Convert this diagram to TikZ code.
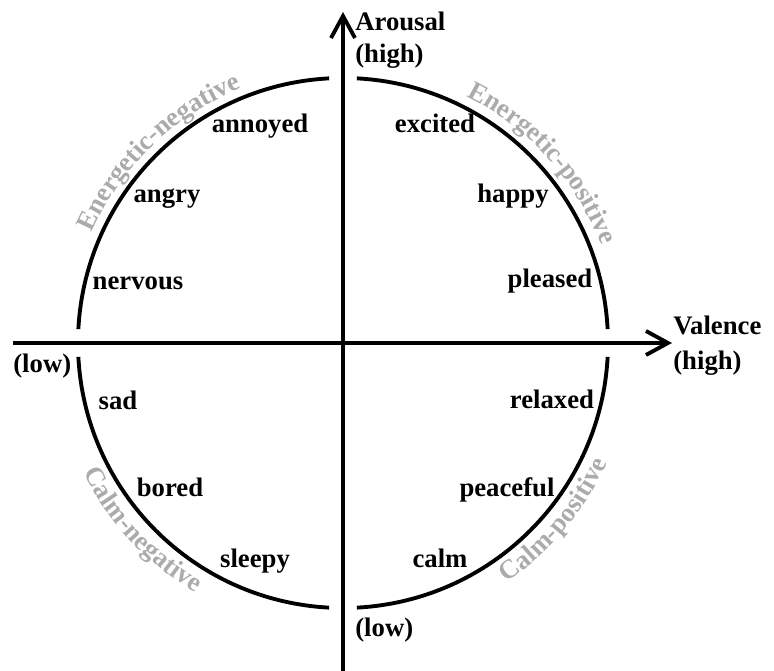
\documentclass[tikz,border=0pt]{standalone}
\usepackage{fontspec}
\setmainfont{Liberation Serif}
\usetikzlibrary{arrows.meta,decorations.text}
\definecolor{zonegray}{HTML}{ABABAB}
\tikzset{
  mood/.style={font=\bfseries\fontsize{15.2}{17}\selectfont,anchor=base,inner sep=0pt},
  axislabel/.style={mood,anchor=base west},
  ring/.style={line width=2.2pt},
  axisline/.style={-{Straight Barb[length=4.4mm,width=4.8mm]},line width=2.2pt},
  zone/.style={decorate,decoration={text along path,text align=center,text={|\zonefont|#1}}},
}
\newcommand{\zonefont}{\bfseries\fontsize{15.2}{17}\selectfont\color{zonegray}}

\begin{document}
\begin{tikzpicture}[x=0.02cm,y=0.02cm]
    \useasboundingbox (-343,-328) rectangle (431,343);
    % axes
    \coordinate (vlow) at (-330,0);
    \coordinate (vhigh) at (329,0);
    \coordinate (alow) at (0,-328);
    \coordinate (ahigh) at (0,331);
    \draw[axisline] (vlow)--(vhigh);
    \draw[axisline] (alow)--(ahigh);
    % circle, broken at the axes
    \foreach \a in {0,90,180,270}
      \draw[ring] ({\a+3}:265) arc[start angle=\a+3,end angle=\a+87,radius=265];
    % quadrant names
    \path[zone=Energetic-negative] (160:274) arc[start angle=160,end angle=108,radius=274];
    \path[zone=Energetic-positive] (68:276) arc[start angle=68,end angle=16,radius=276];
    \path[zone=Calm-negative] (198:290) arc[start angle=198,end angle=248,radius=290];
    \path[zone=Calm-positive] (295:290) arc[start angle=295,end angle=345,radius=290];
    % emotions
    \node[mood] (annoyed) at (-83,210) {annoyed};
    \node[mood] (excited) at (92,210) {excited};
    \node[mood] (angry) at (-176,140) {angry};
    \node[mood] (happy) at (170,140) {happy};
    \node[mood] (nervous) at (-205,53) {nervous};
    \node[mood] (pleased) at (207,55) {pleased};
    \node[mood] (sad) at (-225,-67) {sad};
    \node[mood] (relaxed) at (209,-66) {relaxed};
    \node[mood] (bored) at (-173,-154) {bored};
    \node[mood] (peaceful) at (164,-154) {peaceful};
    \node[mood] (sleepy) at (-88,-225) {sleepy};
    \node[mood] (calm) at (97,-225) {calm};
    % axis labels
    \node[axislabel] (arousal) at (12,312) {Arousal};
    \node[axislabel] (arousalhigh) at (12,280) {(high)};
    \node[axislabel] (arousallow) at (12,-294) {(low)};
    \node[axislabel] (valence) at (330,8) {Valence};
    \node[axislabel] (valencehigh) at (330,-27) {(high)};
    \node[axislabel] (valencelow) at (-330,-30) {(low)};
\end{tikzpicture}
\end{document}
